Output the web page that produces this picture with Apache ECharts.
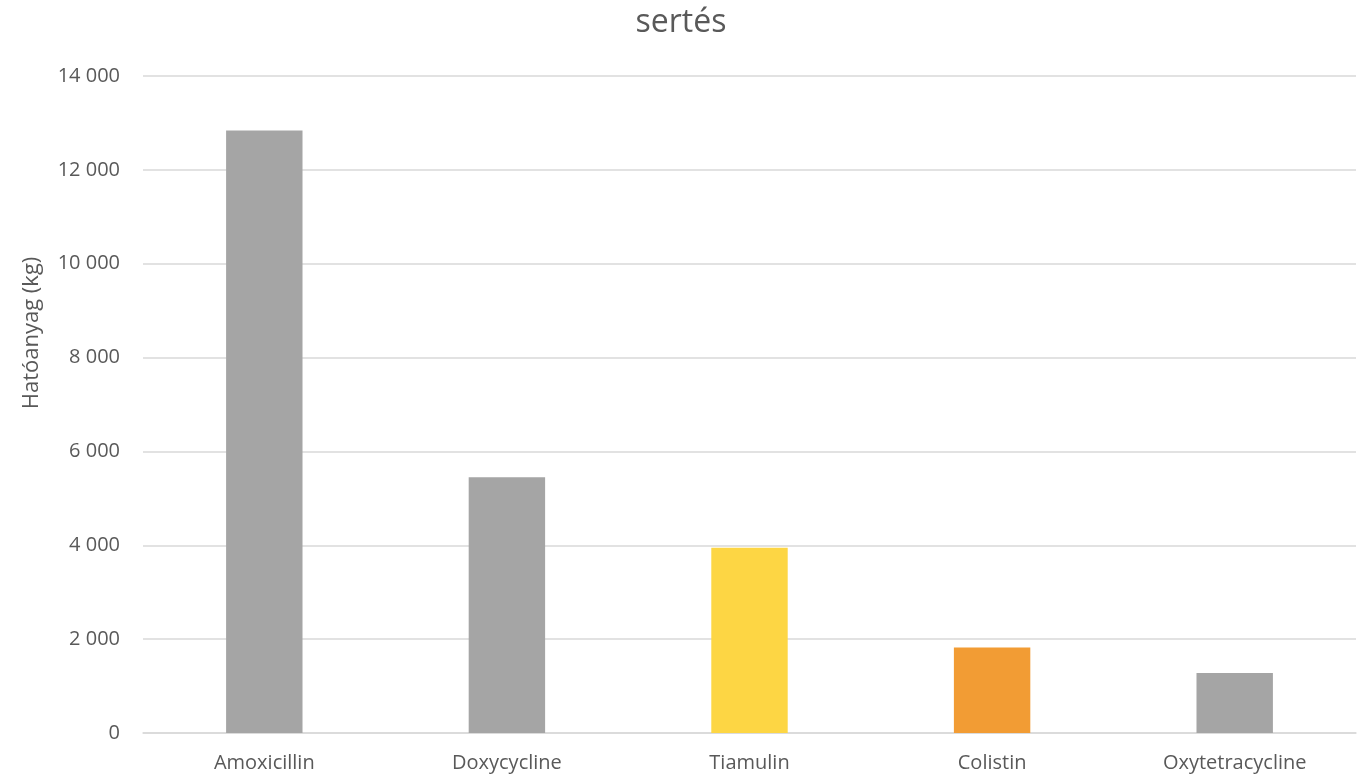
<!DOCTYPE html>
<html><head><meta charset="utf-8">
<script src="https://cdn.jsdelivr.net/npm/echarts@6/dist/echarts.min.js"></script>
<style>html,body{margin:0;padding:0;background:#fff}#c{width:1362px;height:776px}</style>
</head><body><div id="c"></div>
<script>
const categories = ["Amoxicillin", "Doxycycline", "Tiamulin", "Colistin", "Oxytetracycline"];
const values = [12840, 5450, 3950, 1820, 1280];
const barColors = ["#A5A5A5", "#A5A5A5", "#FDD644", "#F29C34", "#A5A5A5"];
const titleText = "sertés";
const yAxisName = "Hatóanyag (kg)";

const font = "'Open Sans', 'Noto Sans', sans-serif";
const chart = echarts.init(document.getElementById('c'));
chart.setOption({
  animation: false,
  title: { text: titleText, left: 'center', top: 2, textStyle: { fontFamily: font, fontSize: 32, fontWeight: 'normal', color: '#595959' } },
  grid: { left: 143, right: 6, top: 76, bottom: 43 },
  graphic: [{
    type: 'text', x: 32, y: 333, rotation: Math.PI / 2,
    style: { text: yAxisName, fontFamily: font, fontSize: 22, fill: '#595959', align: 'center', verticalAlign: 'middle' }
  }],
  xAxis: {
    type: 'category', data: categories,
    axisLine: { lineStyle: { color: '#D9D9D9', width: 1.5 } },
    axisTick: { show: false },
    axisLabel: { fontFamily: font, fontSize: 20, color: '#595959', margin: 20 }
  },
  yAxis: {
    type: 'value', min: 0, max: 14000, interval: 2000,
    axisLine: { show: false }, axisTick: { show: false },
    splitLine: { lineStyle: { color: '#D9D9D9', width: 1.5 } },
    axisLabel: { fontFamily: font, fontSize: 20, color: '#595959', margin: 23,
      formatter: v => String(v).replace(/\B(?=(\d{3})+(?!\d))/g, ' ') }
  },
  series: [{
    type: 'bar', barWidth: '31.5%',
    data: values.map((v, i) => ({ value: v, itemStyle: { color: barColors[i] } }))
  }]
});
</script></body></html>
